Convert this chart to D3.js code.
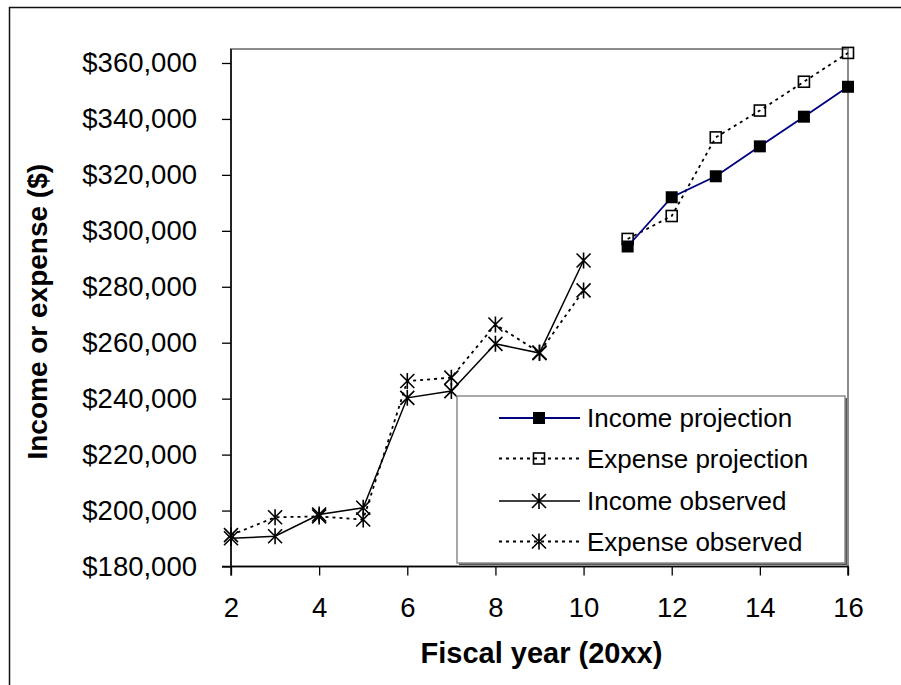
<!DOCTYPE html>
<html>
<head>
<meta charset="utf-8">
<script src="https://cdn.jsdelivr.net/npm/d3@7"></script>
<style>
  html, body { margin: 0; padding: 0; background: #fff; }
  svg { display: block; font-family: "Liberation Sans", Arial, sans-serif; }
</style>
</head>
<body>
<svg id="chart" width="901" height="685"></svg>
<script>
// Fiscal years (20xx)
const observedYears = [2, 3, 4, 5, 6, 7, 8, 9, 10];
const projectedYears = [11, 12, 13, 14, 15, 16];

// Observed values ($)
const incomeObserved = [190100, 190800, 198600, 201000, 240300, 242700, 259600, 256300, 289400];
const expenseObserved = [191200, 197600, 197900, 196800, 246300, 247500, 266500, 256500, 278700];

// Projected values ($)
const incomeProjection = [294400, 312000, 319500, 330200, 340800, 351500];
const expenseProjection = [297100, 305300, 333400, 343000, 353300, 363600];

const xTicks = [2, 4, 6, 8, 10, 12, 14, 16];
const yTicks = [180000, 200000, 220000, 240000, 260000, 280000, 300000, 320000, 340000, 360000];

const legendLabels = ["Income projection", "Expense projection", "Income observed", "Expense observed"];

const svg = d3.select("#chart");
const plot = { left: 231, right: 848, top: 49, bottom: 566.5 };

const x = d3.scaleLinear().domain([2, 16]).range([plot.left, plot.right]);
const y = d3.scaleLinear().domain([180000, 365000]).range([plot.bottom, plot.top]);

// Outer chart frame
svg.append("rect")
  .attr("x", 9.5).attr("y", 7.5).attr("width", 1000).attr("height", 1000)
  .attr("fill", "none").attr("stroke", "#111").attr("stroke-width", 1.5);

// Plot area border
svg.append("rect")
  .attr("x", plot.left).attr("y", plot.top)
  .attr("width", plot.right - plot.left).attr("height", plot.bottom - plot.top)
  .attr("fill", "#fff").attr("stroke", "#8c8c8c").attr("stroke-width", 2);

// Axes
const yAxis = svg.append("g")
  .attr("transform", `translate(${plot.left},0)`)
  .call(d3.axisLeft(y).tickValues(yTicks).tickSize(9).tickPadding(25)
    .tickFormat(d3.format("$,.0f")));
const xAxis = svg.append("g")
  .attr("transform", `translate(0,${plot.bottom})`)
  .call(d3.axisBottom(x).tickValues(xTicks).tickSize(9).tickPadding(22));

[yAxis, xAxis].forEach(g => {
  g.select(".domain").attr("stroke", "#000").attr("stroke-width", 1.5);
  g.selectAll(".tick line").attr("stroke", "#000").attr("stroke-width", 1.3);
  g.selectAll(".tick text").attr("fill", "#000").attr("font-size", 27.5)
    .attr("font-family", "'Liberation Sans', Arial, sans-serif");
});
// keep the y axis line spanning the full plot height
yAxis.select(".domain").attr("d", `M-9,${plot.bottom}H0V${plot.top}`);
xAxis.select(".domain").attr("d", `M${plot.left},9V0H${plot.right}V9`);

// Axis titles
svg.append("text")
  .attr("x", (plot.left + plot.right) / 2 + 2).attr("y", 663)
  .attr("text-anchor", "middle").attr("font-size", 29).attr("font-weight", "bold")
  .text("Fiscal year (20xx)");
svg.append("text")
  .attr("transform", `translate(47,${(plot.top + plot.bottom) / 2 + 4}) rotate(-90)`)
  .attr("text-anchor", "middle").attr("font-size", 28).attr("font-weight", "bold")
  .text("Income or expense ($)");

// Markers
function drawMarker(g, kind, cx, cy) {
  if (kind === "filled") {
    g.append("rect").attr("x", cx - 6).attr("y", cy - 6).attr("width", 12).attr("height", 12)
      .attr("fill", "#000");
  } else if (kind === "open") {
    g.append("rect").attr("x", cx - 5.5).attr("y", cy - 5.5).attr("width", 11).attr("height", 11)
      .attr("fill", "none").attr("stroke", "#000").attr("stroke-width", 1.6);
  } else {
    const r = 7;
    g.append("path")
      .attr("d", `M${cx - r},${cy - r}L${cx + r},${cy + r}M${cx - r},${cy + r}L${cx + r},${cy - r}M${cx},${cy - r - 1}V${cy + r + 1}`)
      .attr("stroke", "#000").attr("stroke-width", 1.6).attr("fill", "none");
  }
}

const series = [
  { years: projectedYears, values: expenseProjection, color: "#000", dash: "3,4", width: 1.8, marker: "open" },
  { years: observedYears, values: expenseObserved, color: "#000", dash: "3,4", width: 1.8, marker: "star" },
  { years: observedYears, values: incomeObserved, color: "#000", dash: null, width: 1.5, marker: "star" },
  { years: projectedYears, values: incomeProjection, color: "#000080", dash: null, width: 1.8, marker: "filled" }
];

const line = d3.line().x(d => x(d[0])).y(d => y(d[1]));

series.forEach(s => {
  const pts = s.years.map((yr, i) => [yr, s.values[i]]);
  const g = svg.append("g");
  g.append("path").datum(pts).attr("d", line)
    .attr("fill", "none").attr("stroke", s.color).attr("stroke-width", s.width)
    .attr("stroke-dasharray", s.dash);
  pts.forEach(p => drawMarker(g, s.marker, x(p[0]), y(p[1])));
});

// Legend
const legend = svg.append("g");
legend.append("rect")
  .attr("x", 459).attr("y", 398).attr("width", 388).attr("height", 167)
  .attr("fill", "#555");
legend.append("rect")
  .attr("x", 457).attr("y", 396).attr("width", 388).attr("height", 167)
  .attr("fill", "#fff").attr("stroke", "#8c8c8c").attr("stroke-width", 1.5);

const legendStyles = [
  { color: "#000080", dash: null, marker: "filled", width: 1.8 },
  { color: "#000", dash: "3,4", marker: "open", width: 1.8 },
  { color: "#000", dash: null, marker: "star", width: 1.5 },
  { color: "#000", dash: "3,4", marker: "star", width: 1.8 }
];
const rowY = [418, 458.5, 501, 541.5];
legendLabels.forEach((label, i) => {
  const st = legendStyles[i];
  const cy = rowY[i];
  legend.append("line")
    .attr("x1", 499).attr("x2", 580).attr("y1", cy).attr("y2", cy)
    .attr("stroke", st.color).attr("stroke-width", st.width)
    .attr("stroke-dasharray", st.dash);
  drawMarker(legend, st.marker, 539, cy);
  legend.append("text")
    .attr("x", 587).attr("y", cy).attr("dy", "0.36em")
    .attr("font-size", 26).attr("fill", "#000")
    .text(label);
});
</script>
</body>
</html>
